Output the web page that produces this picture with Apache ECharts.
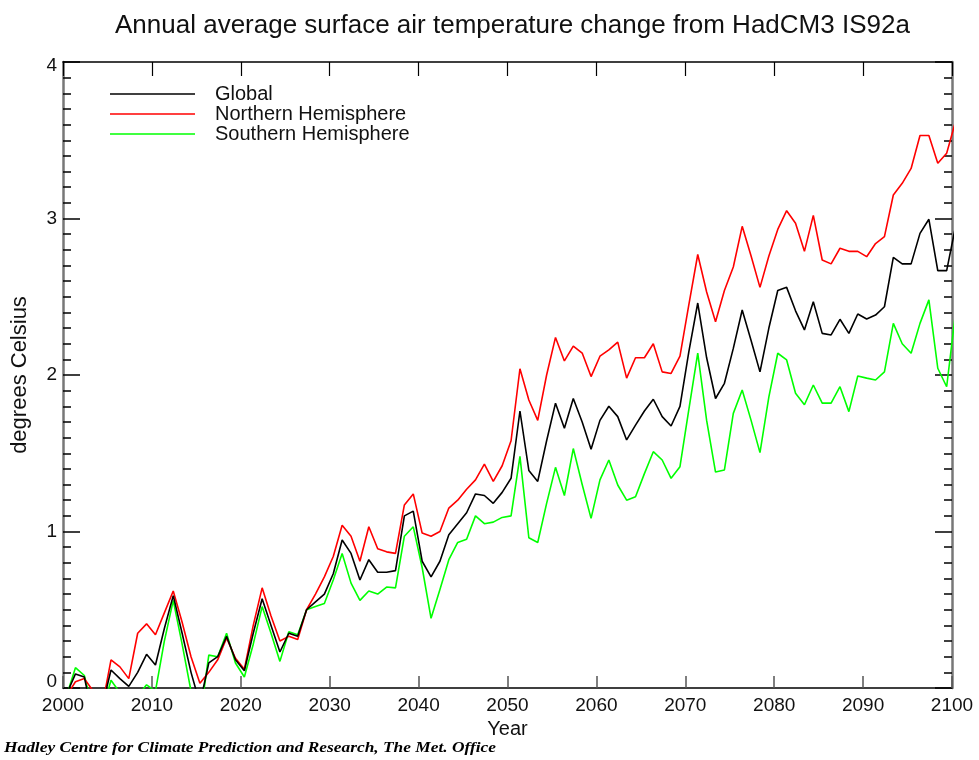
<!DOCTYPE html>
<html>
<head>
<meta charset="utf-8">
<title>HadCM3 IS92a surface air temperature change</title>
<script src="https://cdn.jsdelivr.net/npm/echarts@6/dist/echarts.min.js"></script>
<style>
  html, body { margin: 0; padding: 0; background: #ffffff; }
  #chart { width: 979px; height: 760px; }
</style>
</head>
<body>
<div id="chart"></div>
<script>
// Annual mean values, one per year from 2000 to 2100 (degrees Celsius change)
const firstYear = 2000;
const lastYear = 2100;
// each annual mean is drawn a little inside its own year
const yearPlotOffset = 0.4;

const globalMean = [
  -0.04, 0.09, 0.07, -0.2, -0.12, 0.115, 0.06, 0.01, 0.1, 0.215,
  0.147, 0.38, 0.59, 0.35, 0.1, -0.1, 0.16, 0.2, 0.33, 0.18,
  0.11, 0.35, 0.57, 0.4, 0.23, 0.35, 0.33, 0.5, 0.55, 0.6,
  0.73, 0.946, 0.86, 0.69, 0.82, 0.74, 0.74, 0.75, 1.1, 1.13,
  0.81, 0.71, 0.81, 0.98, 1.05, 1.12, 1.24, 1.23, 1.18, 1.25,
  1.34, 1.77, 1.39, 1.32, 1.58, 1.82, 1.66, 1.85, 1.70, 1.525,
  1.71, 1.80, 1.734, 1.585, 1.68, 1.77, 1.845, 1.734, 1.674, 1.8,
  2.15, 2.46, 2.11, 1.85, 1.947, 2.17, 2.415, 2.22, 2.02, 2.3,
  2.54, 2.56, 2.41, 2.288, 2.468, 2.266, 2.256, 2.356, 2.266, 2.39,
  2.358, 2.383, 2.436, 2.752, 2.71, 2.71, 2.905, 2.995, 2.667, 2.667,
  2.95
];

const northernHemisphere = [
  -0.05, 0.04, 0.06, -0.02, -0.12, 0.18, 0.135, 0.06, 0.35, 0.41,
  0.34, 0.48, 0.62, 0.42, 0.2, 0.03, 0.1, 0.18, 0.32, 0.19,
  0.12, 0.4, 0.64, 0.46, 0.3, 0.33, 0.31, 0.5, 0.6, 0.71,
  0.84, 1.04, 0.97, 0.81, 1.03, 0.89, 0.87, 0.86, 1.17, 1.24,
  0.99, 0.97, 1.0, 1.15, 1.2, 1.27, 1.33, 1.43, 1.32, 1.42,
  1.58, 2.04, 1.84, 1.71, 2.0, 2.24, 2.09, 2.185, 2.14, 1.99,
  2.12, 2.16, 2.21, 1.98, 2.11, 2.11, 2.2, 2.02, 2.01, 2.12,
  2.45, 2.77, 2.53, 2.34, 2.54, 2.69, 2.95, 2.76, 2.56, 2.76,
  2.93, 3.05, 2.97, 2.79, 3.02, 2.735, 2.71, 2.81, 2.79, 2.79,
  2.756, 2.84, 2.884, 3.15, 3.225, 3.32, 3.53, 3.53, 3.353, 3.417,
  3.62
];

const southernHemisphere = [
  -0.05, 0.13, 0.08, -0.15, -0.15, 0.05, -0.03, -0.15, -0.05, 0.02,
  -0.02, 0.3, 0.56, 0.28, -0.02, -0.2, 0.21, 0.2, 0.35, 0.16,
  0.07, 0.28, 0.52, 0.35, 0.17, 0.36, 0.34, 0.5, 0.52, 0.54,
  0.69, 0.86, 0.67, 0.56, 0.62, 0.6, 0.645, 0.64, 0.97, 1.03,
  0.77, 0.445, 0.63, 0.82, 0.93, 0.95, 1.1, 1.05, 1.06, 1.09,
  1.1, 1.48, 0.96, 0.93, 1.18, 1.41, 1.23, 1.53, 1.3, 1.084,
  1.33, 1.457, 1.297, 1.2, 1.222, 1.37, 1.51, 1.457, 1.34, 1.414,
  1.78, 2.14, 1.71, 1.38, 1.393, 1.755, 1.904, 1.71, 1.504, 1.86,
  2.139, 2.096, 1.883, 1.81, 1.936, 1.82, 1.82, 1.925, 1.766, 1.994,
  1.98, 1.968, 2.02, 2.33, 2.2, 2.139, 2.33, 2.48, 2.043, 1.925,
  2.4
];

const seriesNames = ['Global', 'Northern Hemisphere', 'Southern Hemisphere'];
const seriesColors = ['#000000', '#ff0000', '#00ff00'];
const seriesValues = [globalMean, northernHemisphere, southernHemisphere];

const years = [];
for (let y = firstYear; y <= lastYear; y++) years.push(y);

function toPoints(values) {
  return values.map((v, i) => [years[i] + yearPlotOffset, v]);
}

const FONT = 'Liberation Sans, Arial, Helvetica, sans-serif';
const chart = echarts.init(document.getElementById('chart'), null, { renderer: 'canvas' });

const plainAxisX = {
  type: 'value', min: 2000, max: 2100, interval: 10,
  splitLine: { show: false }
};
const plainAxisY = {
  type: 'value', min: 0, max: 4, interval: 1,
  splitLine: { show: false }
};

chart.setOption({
  animation: false,
  backgroundColor: '#ffffff',
  title: {
    text: 'Annual average surface air temperature change from HadCM3 IS92a',
    left: 110,
    top: 8,
    textStyle: { fontFamily: FONT, fontSize: 26, fontWeight: 'normal', color: '#111' }
  },
  legend: {
    data: seriesNames,
    orient: 'vertical',
    left: 105,
    top: 79,
    icon: 'rect',
    itemWidth: 85,
    itemHeight: 1.5,
    itemGap: 0,
    textStyle: { fontFamily: FONT, fontSize: 20, color: '#111', padding: [0, 0, 0, 15], lineHeight: 19.5 }
  },
  grid: { left: 63, right: 27, top: 62, bottom: 72 },
  xAxis: [
    Object.assign({}, plainAxisX, {
      position: 'bottom',
      name: 'Year',
      nameLocation: 'middle',
      nameGap: 28,
      nameTextStyle: { fontFamily: FONT, fontSize: 20, color: '#111' },
      axisLine: { show: true, onZero: false, lineStyle: { color: '#000', width: 1.5 } },
      axisTick: { show: true, inside: true, length: 12, lineStyle: { color: '#555', width: 1.5 } },
      axisLabel: { fontFamily: FONT, fontSize: 19, color: '#111', margin: 8, formatter: v => String(v) }
    }),
    Object.assign({}, plainAxisX, {
      position: 'top',
      axisLine: { show: true, onZero: false, lineStyle: { color: '#000', width: 1.5 } },
      axisTick: { show: true, inside: true, length: 14, lineStyle: { color: '#000', width: 1.2 } },
      axisLabel: { show: false }
    })
  ],
  yAxis: [
    Object.assign({}, plainAxisY, {
      position: 'left',
      name: 'degrees Celsius',
      nameLocation: 'middle',
      nameGap: 32,
      nameRotate: 90,
      nameTextStyle: { fontFamily: FONT, fontSize: 22, color: '#111' },
      axisLine: { show: true, onZero: false, lineStyle: { color: '#777', width: 2.5 } },
      axisTick: { show: true, inside: true, length: 17, lineStyle: { color: '#000', width: 1.5 } },
      minorTick: { show: true, splitNumber: 10, length: 8, lineStyle: { color: '#000', width: 1.5 } },
      axisLabel: {
        fontFamily: FONT, fontSize: 19, color: '#111', margin: 6,
        formatter: v => {
          if (v === 0) return '{low|0}';
          if (v === 4) return '{high|4}';
          return String(v);
        },
        rich: {
          low: { fontFamily: FONT, fontSize: 19, color: '#111', padding: [0, 0, 12, 0] },
          high: { fontFamily: FONT, fontSize: 19, color: '#111', padding: [8, 0, 0, 0] }
        }
      }
    }),
    Object.assign({}, plainAxisY, {
      position: 'right',
      axisLine: { show: true, onZero: false, lineStyle: { color: '#777', width: 2.5 } },
      axisTick: { show: true, inside: true, length: 17, lineStyle: { color: '#000', width: 1.5 } },
      minorTick: { show: true, splitNumber: 10, length: 8, lineStyle: { color: '#000', width: 1.5 } },
      axisLabel: { show: false }
    })
  ],
  series: seriesNames.map((name, k) => ({
    name: name,
    type: 'line',
    xAxisIndex: 0,
    yAxisIndex: 0,
    data: toPoints(seriesValues[k]),
    showSymbol: false,
    clip: true,
    color: seriesColors[k],
    lineStyle: { color: seriesColors[k], width: 1.6 },
    z: 3 - k
  })),
  graphic: [
    {
      type: 'text',
      x: 4,
      y: 741,
      scaleX: 1.24,
      style: {
        text: 'Hadley Centre for Climate Prediction and Research, The Met. Office',
        font: 'italic bold 14px "Liberation Serif", "Times New Roman", serif',
        fill: '#000'
      }
    }
  ]
});
</script>
</body>
</html>
